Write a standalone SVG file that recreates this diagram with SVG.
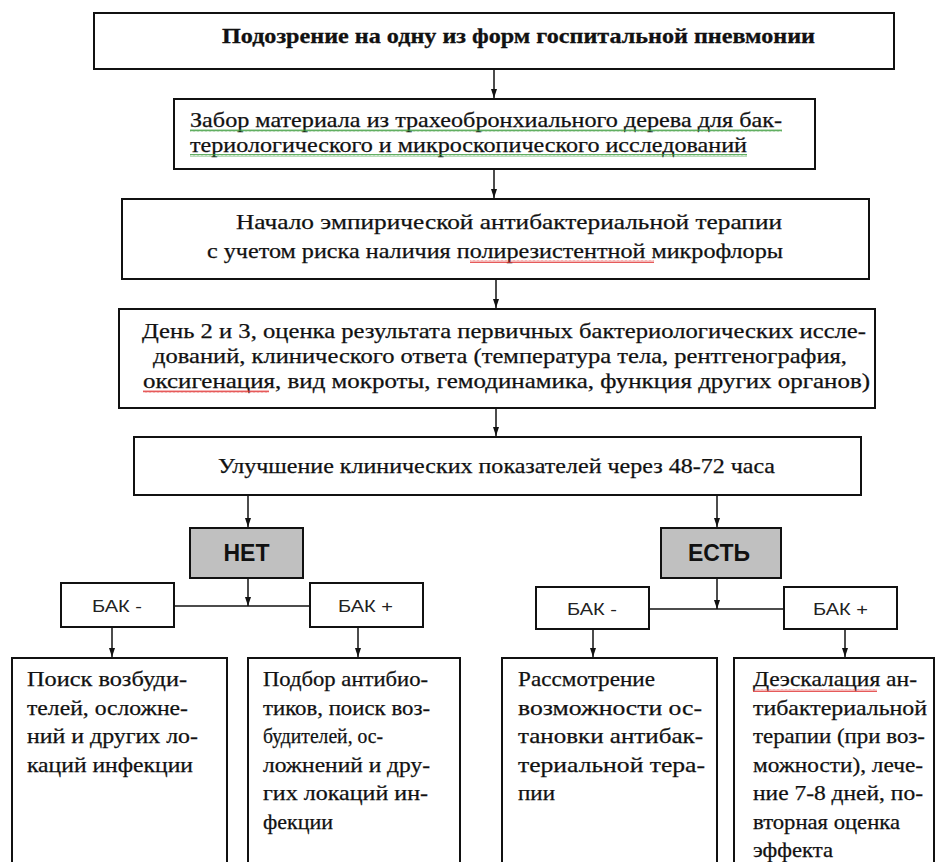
<svg xmlns="http://www.w3.org/2000/svg" width="939" height="862" viewBox="0 0 939 862">
  <style>
    .box { fill: #ffffff; stroke: #111111; stroke-width: 2; }
    .dec { fill: #c0c0c0; stroke: #111111; stroke-width: 2; }
    .t { font-family: 'Liberation Serif', 'Times New Roman', serif; font-size: 21px; fill: #111111; stroke: #111111; stroke-width: 0.25; }
    .tb { font-family: 'Liberation Serif', 'Times New Roman', serif; font-size: 21px; font-weight: bold; fill: #111111; stroke: #111111; stroke-width: 0.3; }
    .s { font-family: 'Liberation Sans', Arial, sans-serif; font-size: 17px; fill: #222222; }
    .sb { font-family: 'Liberation Sans', Arial, sans-serif; font-size: 23px; font-weight: bold; fill: #111111; }
    .ln { fill: none; stroke: #111111; stroke-width: 1.5; }
    .arr { fill: none; stroke: #111111; stroke-width: 1.5; marker-end: url(#head); }
  </style>
  <defs>
    <!-- small filled arrowhead, tip at the end of the line -->
    <marker id="head" markerUnits="userSpaceOnUse" markerWidth="9" markerHeight="7" refX="9" refY="3.5" orient="auto" viewBox="0 0 9 7">
      <path d="M0,0.5 L9,3.5 L0,6.5 Z" fill="#111111"/>
    </marker>
    <!-- wavy proofing underlines -->
    <pattern id="sq-green" patternUnits="userSpaceOnUse" width="4" height="3">
      <path d="M0,2.5 L1,0.5 L2,2.5 L3,0.5 L4,2.5" fill="none" stroke="#3a9a3a" stroke-width="0.8"/>
    </pattern>
    <pattern id="sq-red" patternUnits="userSpaceOnUse" width="4" height="3">
      <path d="M0,2.5 L1,0.5 L2,2.5 L3,0.5 L4,2.5" fill="none" stroke="#e03030" stroke-width="0.8"/>
    </pattern>
  </defs>

  <rect width="939" height="862" fill="#ffffff"/>

  <!-- connectors -->
  <g id="connectors">
    <line class="arr" x1="494" y1="70" x2="494" y2="98"/>
    <line class="arr" x1="494" y1="170" x2="494" y2="198"/>
    <line class="arr" x1="496" y1="280" x2="496" y2="308"/>
    <line class="arr" x1="496" y1="409" x2="496" y2="436"/>
    <!-- left branch -->
    <line class="arr" x1="248" y1="496" x2="248" y2="527"/>
    <line class="arr" x1="248" y1="579" x2="248" y2="606"/>
    <line class="ln" x1="174" y1="606" x2="310" y2="606"/>
    <line class="arr" x1="112" y1="628" x2="112" y2="657"/>
    <line class="arr" x1="358" y1="628" x2="358" y2="657"/>
    <!-- right branch -->
    <line class="arr" x1="717" y1="496" x2="717" y2="527"/>
    <line class="arr" x1="717" y1="579" x2="717" y2="609"/>
    <line class="ln" x1="649" y1="609" x2="784" y2="609"/>
    <line class="arr" x1="593" y1="630" x2="593" y2="657"/>
    <line class="arr" x1="845" y1="630" x2="845" y2="657"/>
  </g>

  <g id="suspicion">
    <rect class="box" x="94" y="13" width="800" height="56"/>
    <text class="tb" x="222" y="43" textLength="593" lengthAdjust="spacingAndGlyphs">Подозрение на одну из форм госпитальной пневмонии</text>
  </g>

  <g id="sampling">
    <rect class="box" x="174" y="99" width="641" height="70"/>
    <text class="t" x="190" y="127" textLength="592" lengthAdjust="spacingAndGlyphs">Забор материала из трахеобронхиального дерева для бак-</text>
    <text class="t" x="190" y="152" textLength="557" lengthAdjust="spacingAndGlyphs">териологического и микроскопического исследований</text>
    <rect x="190" y="129" width="592" height="3" fill="url(#sq-green)"/>
    <rect x="190" y="154" width="557" height="3" fill="url(#sq-green)"/>
  </g>

  <g id="empiric">
    <rect class="box" x="122" y="199" width="747" height="80"/>
    <text class="t" x="236" y="229" textLength="546" lengthAdjust="spacingAndGlyphs">Начало эмпирической антибактериальной терапии</text>
    <text class="t" x="207" y="258" textLength="576" lengthAdjust="spacingAndGlyphs">с учетом риска наличия полирезистентной микрофлоры</text>
    <rect x="470" y="260" width="184" height="3" fill="url(#sq-red)"/>
  </g>

  <g id="day23">
    <rect class="box" x="119" y="309" width="756" height="99"/>
    <text class="t" x="142" y="338" textLength="724" lengthAdjust="spacingAndGlyphs">День 2 и 3, оценка результата первичных бактериологических иссле-</text>
    <text class="t" x="153" y="363" textLength="694" lengthAdjust="spacingAndGlyphs">дований, клинического ответа (температура тела, рентгенография,</text>
    <text class="t" x="143" y="388" textLength="727" lengthAdjust="spacingAndGlyphs">оксигенация, вид мокроты, гемодинамика, функция других органов)</text>
    <rect x="143" y="390" width="126" height="3" fill="url(#sq-red)"/>
  </g>

  <g id="improvement">
    <rect class="box" x="134" y="437" width="727" height="58"/>
    <text class="t" x="218" y="473" textLength="557" lengthAdjust="spacingAndGlyphs">Улучшение клинических показателей через 48-72 часа</text>
  </g>

  <g id="no">
    <rect class="dec" x="190" y="528" width="113" height="50"/>
    <text class="sb" x="246.5" y="561" text-anchor="middle">НЕТ</text>
  </g>

  <g id="yes">
    <rect class="dec" x="661" y="528" width="120" height="50"/>
    <text class="sb" x="719" y="561" text-anchor="middle">ЕСТЬ</text>
  </g>

  <g id="no-bak-neg">
    <rect class="box" x="61" y="583" width="113" height="44"/>
    <text class="s" x="92" y="612" textLength="50" lengthAdjust="spacingAndGlyphs">БАК -</text>
  </g>
  <g id="no-bak-pos">
    <rect class="box" x="310" y="583" width="113" height="44"/>
    <text class="s" x="338" y="612" textLength="55" lengthAdjust="spacingAndGlyphs">БАК +</text>
  </g>
  <g id="yes-bak-neg">
    <rect class="box" x="536" y="587" width="113" height="42"/>
    <text class="s" x="567" y="615" textLength="50" lengthAdjust="spacingAndGlyphs">БАК -</text>
  </g>
  <g id="yes-bak-pos">
    <rect class="box" x="784" y="587" width="113" height="42"/>
    <text class="s" x="813" y="615" textLength="55" lengthAdjust="spacingAndGlyphs">БАК +</text>
  </g>

  <g id="search">
    <rect class="box" x="12" y="658" width="215" height="220"/>
    <text class="t" x="27" y="686" textLength="160" lengthAdjust="spacingAndGlyphs">Поиск возбуди-</text>
    <text class="t" x="27" y="714.5" textLength="161" lengthAdjust="spacingAndGlyphs">телей, осложне-</text>
    <text class="t" x="27" y="743" textLength="171" lengthAdjust="spacingAndGlyphs">ний и других ло-</text>
    <text class="t" x="27" y="771.5" textLength="166" lengthAdjust="spacingAndGlyphs">каций инфекции</text>
  </g>

  <g id="selection">
    <rect class="box" x="248" y="658" width="212" height="220"/>
    <text class="t" x="263" y="686" textLength="165" lengthAdjust="spacingAndGlyphs">Подбор антибио-</text>
    <text class="t" x="263" y="714.5" textLength="167" lengthAdjust="spacingAndGlyphs">тиков, поиск воз-</text>
    <text class="t" x="263" y="743" textLength="120" lengthAdjust="spacingAndGlyphs">будителей, ос-</text>
    <text class="t" x="263" y="771.5" textLength="167" lengthAdjust="spacingAndGlyphs">ложнений и дру-</text>
    <text class="t" x="263" y="800" textLength="165" lengthAdjust="spacingAndGlyphs">гих локаций ин-</text>
    <text class="t" x="263" y="828.5" textLength="70" lengthAdjust="spacingAndGlyphs">фекции</text>
  </g>

  <g id="stop">
    <rect class="box" x="502" y="658" width="215" height="220"/>
    <text class="t" x="518" y="686" textLength="137" lengthAdjust="spacingAndGlyphs">Рассмотрение</text>
    <text class="t" x="518" y="714.5" textLength="184" lengthAdjust="spacingAndGlyphs">возможности ос-</text>
    <text class="t" x="518" y="743" textLength="185" lengthAdjust="spacingAndGlyphs">тановки антибак-</text>
    <text class="t" x="518" y="771.5" textLength="187" lengthAdjust="spacingAndGlyphs">териальной тера-</text>
    <text class="t" x="518" y="800" textLength="37" lengthAdjust="spacingAndGlyphs">пии</text>
  </g>

  <g id="deescalation">
    <rect class="box" x="734" y="658" width="200" height="220"/>
    <text class="t" x="753" y="686" textLength="164" lengthAdjust="spacingAndGlyphs">Деэскалация ан-</text>
    <rect x="753" y="689" width="124" height="3" fill="url(#sq-red)"/>
    <text class="t" x="753" y="714.5" textLength="174" lengthAdjust="spacingAndGlyphs">тибактериальной</text>
    <text class="t" x="753" y="743" textLength="172" lengthAdjust="spacingAndGlyphs">терапии (при воз-</text>
    <text class="t" x="753" y="771.5" textLength="170" lengthAdjust="spacingAndGlyphs">можности), лече-</text>
    <text class="t" x="753" y="800" textLength="170" lengthAdjust="spacingAndGlyphs">ние 7-8 дней, по-</text>
    <text class="t" x="753" y="828.5" textLength="147" lengthAdjust="spacingAndGlyphs">вторная оценка</text>
    <text class="t" x="753" y="857" textLength="80" lengthAdjust="spacingAndGlyphs">эффекта</text>
  </g>
</svg>
